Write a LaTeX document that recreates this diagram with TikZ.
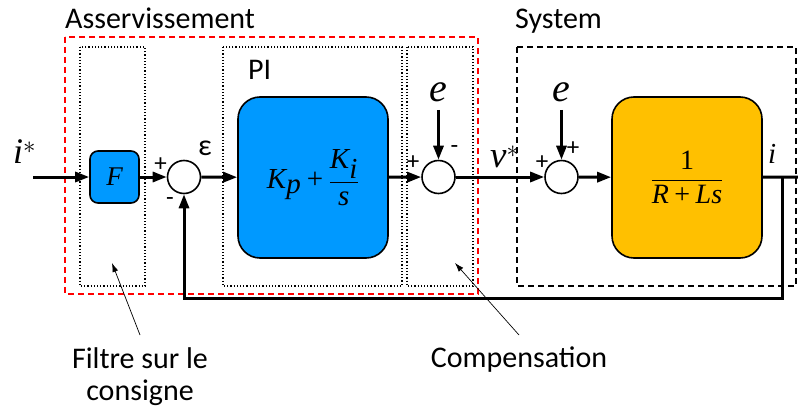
\documentclass[tikz,border=0pt]{standalone}
\usepackage{amsmath}
\usepackage{fontspec}
\setmainfont{Carlito}
\newfontfamily\tms{Liberation Serif}
\usetikzlibrary{arrows.meta,positioning,calc}
\definecolor{piblue}{HTML}{0099FF}
\definecolor{sysorange}{HTML}{FFC000}
\newcommand\tv[1]{\hbox{\tms\itshape #1}}
\newcommand\fs[1]{\fontsize{#1}{#1}\selectfont}

\begin{document}
\begin{tikzpicture}[x=1pt,y=-1pt,
  sig/.style={line width=3pt,-{Triangle[length=14pt,width=10pt]}},
  wire/.style={line width=3pt},
  sumnode/.style={circle,draw,line width=1.6pt,fill=white,minimum size=33pt,inner sep=0pt},
  blk/.style={draw,line width=1.6pt,rounded corners=22pt,minimum width=150pt,minimum height=161pt},
  grp/.style={dotted,line width=1.2pt},
  sgn/.style={font=\fs{25}},
  note/.style={font=\fontsize{30}{32}\selectfont},
  pointer/.style={line width=0.7pt,-{Latex[length=9pt,width=6pt]}}]
  \useasboundingbox (0,0) rectangle (798,412);

  % groups
  \draw[red,dashed,line width=1.4pt,dash pattern=on 6pt off 4pt] (65,37) rectangle (478,294);
  \draw[grp] (80,47) rectangle (145,286);
  \draw[grp] (223,47) rectangle (402,286);
  \draw[grp] (407,47) rectangle (473,286);
  \draw[dashed,line width=1.4pt,dash pattern=on 6pt off 4pt] (517,47) rectangle (796,286);
  \node[note,anchor=base west,inner sep=0pt] (asv) at (65,29) {Asservissement};
  \node[note,anchor=base west,inner sep=0pt] (sys) at (515,29) {System};
  \node[note,anchor=base west,inner sep=0pt] (pil) at (248,80) {PI};

  % blocks
  \node[blk,fill=piblue,rounded corners=8pt,minimum width=49pt,minimum height=52pt,
        font=\tms\itshape\fs{27}] (F) at (114.5,177) {F};
  \node[sumnode] (s1) at (184,177) {};
  \node[blk,fill=piblue,font=\fs{29}] (PI) at (313,177.5)
    {$\tv{K}_{\tv{\fs{29}p}}\mathbin{\hbox{\tms +}}\dfrac{\tv{K}_{\tv{\fs{29}i}}}{\tv{s}}$};
  \node[sumnode] (s2) at (438.5,177) {};
  \node[sumnode] (s3) at (561.5,177) {};
  \node[blk,fill=sysorange,font=\fs{28}] (G) at (687,177.5)
    {$\dfrac{\hbox{\tms 1}}{\tv{R}\mathbin{\hbox{\tms +}}\tv{Ls}}$};

  % disturbances
  \node[font=\tms\itshape\fs{40},anchor=base] (e1) at (438.5,101) {e};
  \node[font=\tms\itshape\fs{40},anchor=base] (e2) at (561.5,101) {e};

  % signals
  \coordinate (in) at (33,177);
  \coordinate (out) at (798,177);
  \coordinate (tap) at (782,177);
  \coordinate (fb) at (184,298);
  \draw[sig] (in) -- (F);
  \draw[sig] (F) -- (s1);
  \draw[sig] (s1) -- (PI);
  \draw[sig] (PI) -- (s2);
  \draw[sig] (s2) -- (s3);
  \draw[sig] (s3) -- (G);
  \draw[wire] (G) -- (out);
  \draw[sig] (tap) |- (fb) -- (s1);
  \draw[sig,shorten <=5pt] (e1) -- (s2);
  \draw[sig,shorten <=5pt] (e2) -- (s3);

  % signs and variables
  \node[sgn] (p1) at (160.5,165) {+};
  \node[sgn] (m1) at (170,202) {-};
  \node[font=\fs{30}] (eps) at (205,148) {ε};
  \node[sgn] (p2) at (413,163) {+};
  \node[sgn] (m2) at (454.5,150) {-};
  \node[sgn] (p3) at (542,163) {+};
  \node[sgn] (p4) at (573,149) {+};
  \node[font=\tms\itshape\fs{36},anchor=base west,inner sep=0pt] (istar) at (13,163) {i$^{\ast}$};
  \node[font=\tms\itshape\fs{37},anchor=base west,inner sep=0pt] (vstar) at (490,167) {v$^{\ast}$};
  \node[font=\tms\itshape\fs{29},anchor=base west,inner sep=0pt] (iout) at (768,163) {i};

  % notes
  \node[note,align=center,anchor=base] (filt) at (140,400)
    {Filtre sur le\\consigne};
  \node[note,anchor=base] (comp) at (519,367) {Compensation};
  \coordinate (filtA) at (140,335);
  \coordinate (filtB) at (112,263);
  \coordinate (compA) at (519,335);
  \coordinate (compB) at (455,263);
  \draw[pointer] (filtA) -- (filtB);
  \draw[pointer] (compA) -- (compB);
\end{tikzpicture}
\end{document}
